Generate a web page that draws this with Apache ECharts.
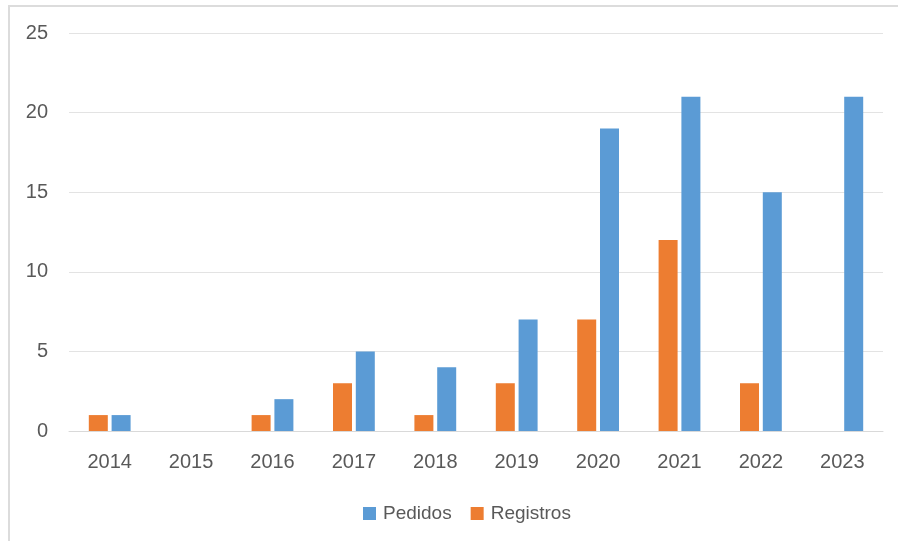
<!DOCTYPE html>
<html>
<head>
<meta charset="utf-8">
<script src="https://cdn.jsdelivr.net/npm/echarts@6/dist/echarts.min.js"></script>
<style>
  html, body { margin: 0; padding: 0; background: #fff; }
  #chart { width: 898px; height: 541px; }
</style>
</head>
<body>
<div id="chart"></div>
<script>
// datos
var years = ['2014', '2015', '2016', '2017', '2018', '2019', '2020', '2021', '2022', '2023'];
var pedidos = [1, 0, 2, 5, 4, 7, 19, 21, 15, 21];
var registros = [1, 0, 1, 3, 1, 3, 7, 12, 3, 0];

var textColor = '#595959';
var fontFam = 'Liberation Sans, Arial, sans-serif';

var myChart = echarts.init(document.getElementById('chart'));
myChart.setOption({
    animation: false,
    graphic: [{
        type: 'rect',
        shape: { x: 9, y: 6, width: 900, height: 560 },
        style: { fill: 'none', stroke: '#dcdcdc', lineWidth: 2 }
    }],
    grid: { left: 69, right: 15, top: 33, bottom: 110 },
    legend: {
        data: ['Pedidos', 'Registros'],
        top: 499,
        left: 358,
        icon: 'rect',
        itemWidth: 13,
        itemHeight: 13,
        itemGap: 19,
        textStyle: { color: textColor, fontSize: 19, fontFamily: fontFam, padding: [0, 0, 0, 2] }
    },
    xAxis: {
        type: 'category',
        data: years,
        axisTick: { show: false },
        axisLine: { lineStyle: { color: '#d9d9d9', width: 1 } },
        axisLabel: { color: textColor, fontSize: 20, fontFamily: fontFam, margin: 21 }
    },
    yAxis: {
        type: 'value',
        min: 0,
        max: 25,
        interval: 5,
        axisLine: { show: false },
        axisTick: { show: false },
        splitLine: { lineStyle: { color: '#e3e3e3', width: 1 } },
        axisLabel: { color: textColor, fontSize: 20, fontFamily: fontFam, margin: 21 }
    },
    series: [{
        name: 'Registros',
        type: 'bar',
        data: registros,
        barWidth: 19,
        barGap: '20%',
        itemStyle: { color: '#ED7D31' }
    }, {
        name: 'Pedidos',
        type: 'bar',
        data: pedidos,
        barWidth: 19,
        barGap: '20%',
        itemStyle: { color: '#5B9BD5' }
    }]
});
</script>
</body>
</html>
